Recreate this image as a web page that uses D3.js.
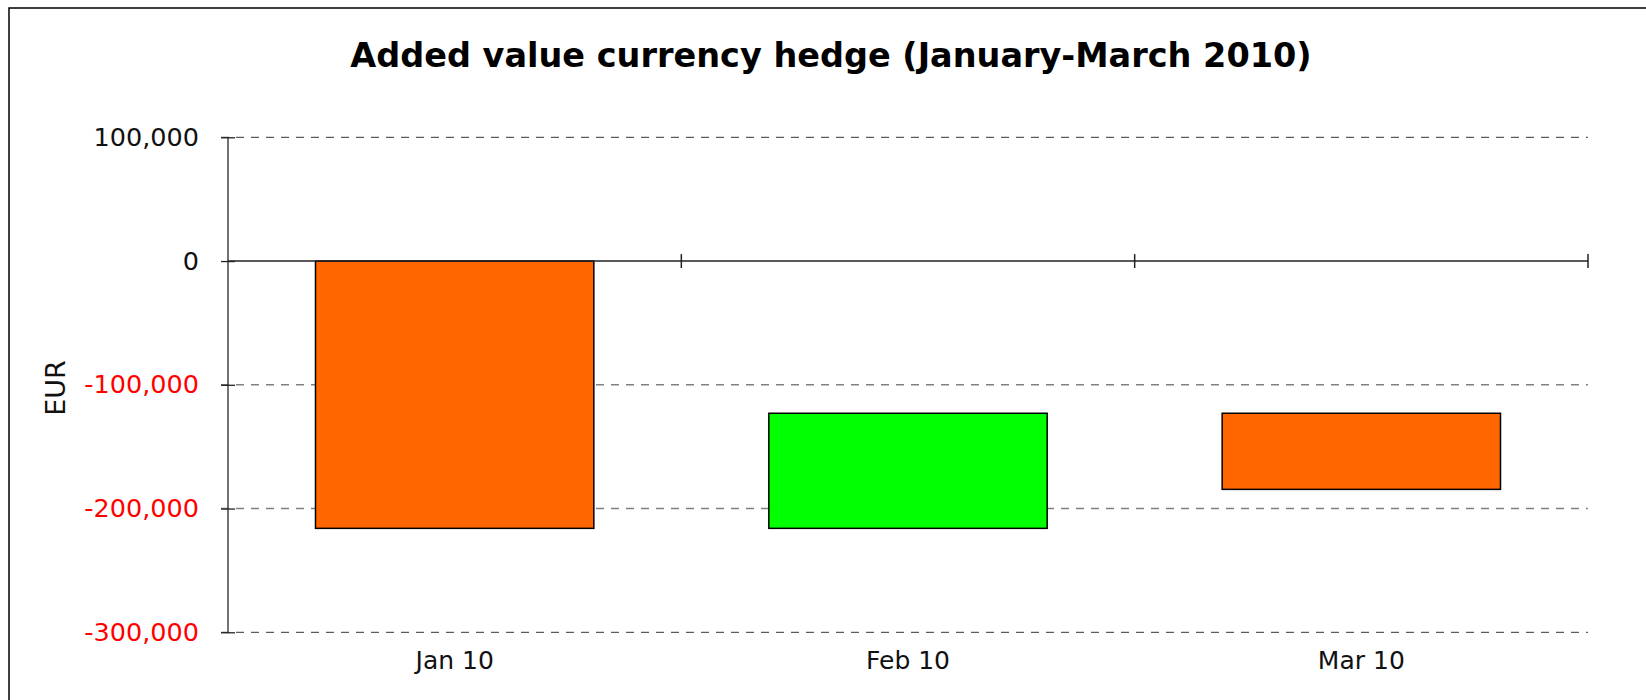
<!DOCTYPE html>
<html>
<head>
<meta charset="utf-8">
<script src="https://cdn.jsdelivr.net/npm/d3@7"></script>
<style>
  html, body { margin: 0; padding: 0; background: #fff; }
  svg { display: block; }
</style>
</head>
<body>
<svg id="chart" width="1646" height="700"></svg>
<script>
const months = ["Jan 10", "Feb 10", "Mar 10"];
const changes = [-216000, 93000, -61500];
const barColors = ["#FF6600", "#00FF00", "#FF6600"];
const yTicks = [100000, 0, -100000, -200000, -300000];
const titleText = "Added value currency hedge (January-March 2010)";
const yAxisTitle = "EUR";

// waterfall segments
let run = 0;
const segs = changes.map((c, i) => {
  const start = run; run += c;
  return { month: months[i], start, end: run, color: barColors[i] };
});

const svg = d3.select("#chart");
const font = "'DejaVu Sans', Verdana, sans-serif";

// outer border
svg.append("rect").attr("x", 9).attr("y", 8).attr("width", 1660).attr("height", 720)
  .attr("fill", "none").attr("stroke", "#000").attr("stroke-width", 1.5);

const x = d3.scaleBand().domain(months).range([228, 1588])
  .paddingInner(0.386).paddingOuter(0.193);
const y = d3.scaleLinear().domain([-300000, 100000]).range([632.3, 137.3]);

// gridlines
svg.append("g").selectAll("line").data(yTicks.filter(v => v !== 0)).join("line")
  .attr("x1", 221).attr("x2", 1588)
  .attr("y1", d => y(d)).attr("y2", d => y(d))
  .attr("stroke", d => (d === 100000 || d === -300000) ? "#333" : "#808080")
  .attr("stroke-width", d => (d === 100000 || d === -300000) ? 1 : 1.6)
  .attr("stroke-dasharray", "8,7");

// bars
svg.append("g").selectAll("rect").data(segs).join("rect")
  .attr("x", d => x(d.month))
  .attr("width", x.bandwidth())
  .attr("y", d => y(Math.max(d.start, d.end)))
  .attr("height", d => Math.abs(y(d.start) - y(d.end)))
  .attr("fill", d => d.color)
  .attr("stroke", "#000").attr("stroke-width", 1.5);

// y axis
const fmt = d3.format(",");
const yAxis = d3.axisLeft(y).tickValues(yTicks).tickSize(7)
  .tickFormat(d => fmt(d).replace("\u2212", "-"));
const gy = svg.append("g").attr("transform", "translate(228,0)").call(yAxis);
gy.select(".domain").attr("stroke", "#444").attr("stroke-width", 1.5)
  .attr("d", `M0,${y(100000)}V${y(-300000)}`);
gy.selectAll(".tick line").attr("x1", 7).attr("x2", -7).attr("stroke", "#222").attr("stroke-width", 1.3);
gy.selectAll(".tick text")
  .attr("x", -29)
  .attr("font-family", font).attr("font-size", 25.5)
  .attr("fill", d => d < 0 ? "#FF0000" : "#111");

// zero axis line with category ticks
const x0 = d3.axisBottom(x).tickSize(0).tickFormat("");
const gz = svg.append("g").attr("transform", `translate(0,${y(0)})`).call(x0);
gz.select(".domain").attr("stroke", "#222").attr("stroke-width", 1.5)
  .attr("d", "M228,0H1588");
const bounds = d3.range(1, months.length + 1).map(i => x.range()[0] + i * x.step());
gz.selectAll(".sep").data(bounds).join("line").attr("class", "sep")
  .attr("x1", d => d).attr("x2", d => d).attr("y1", -7).attr("y2", 7)
  .attr("stroke", "#222").attr("stroke-width", 1.5);

// x labels
svg.append("g").selectAll("text").data(months).join("text")
  .attr("x", d => x(d) + x.bandwidth() / 2)
  .attr("y", 669)
  .attr("text-anchor", "middle")
  .attr("font-family", font).attr("font-size", 25)
  .attr("fill", "#111")
  .text(d => d);

// y title
svg.append("text")
  .attr("transform", "translate(65,388) rotate(-90)")
  .attr("text-anchor", "middle")
  .attr("font-family", font).attr("font-size", 27)
  .attr("fill", "#111")
  .text(yAxisTitle);

// title
svg.append("text")
  .attr("x", 831).attr("y", 67)
  .attr("text-anchor", "middle")
  .attr("font-family", font).attr("font-size", 33.5).attr("font-weight", "bold")
  .attr("fill", "#000")
  .text(titleText);
</script>
</body>
</html>
